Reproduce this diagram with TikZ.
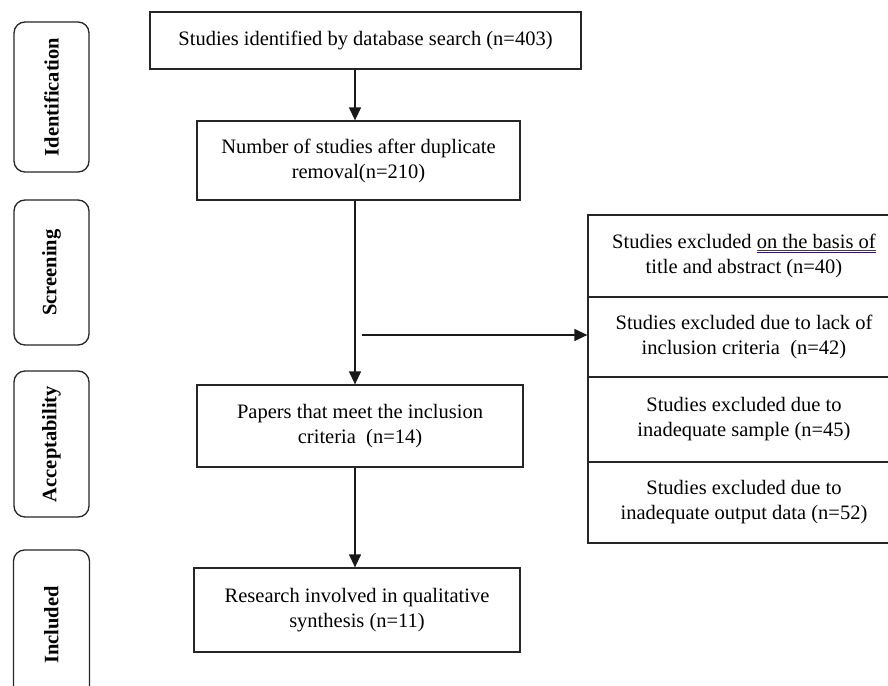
\documentclass[tikz,border=0pt]{standalone}
\usepackage{fontspec}
\setmainfont{Liberation Serif}
\usetikzlibrary{arrows.meta}
\newcommand\spellul[1]{\setbox0\hbox{#1}\rlap{\color{black!75}\rule[-2.4pt]{\wd0}{0.7pt}}\rlap{\color{blue!55!violet}\rule[-4.4pt]{\wd0}{1pt}}\box0}
\tikzset{
  mainbox/.style={draw=black!85, line width=1.3pt, align=center, inner sep=0pt,
    font=\fontsize{20.5}{25}\selectfont},
  phasebox/.style={draw=black!85, line width=1.3pt, rounded corners=11pt, rotate=90,
    inner sep=0pt, font=\fontsize{20.5}{24}\selectfont\bfseries},
  flow/.style={line width=1.3pt, black!90, -{Triangle[length=13pt,width=12pt]}},
}
\begin{document}
\begin{tikzpicture}[x=1pt,y=-1pt]
\clip (0,0) rectangle (888,685);
\fill[white] (0,0) rectangle (888,685);
% phase labels
\node[phasebox, minimum width=150pt, minimum height=75pt] (pid) at (51.5,97) {Identification};
\node[phasebox, minimum width=145pt, minimum height=75pt] (psc) at (51.5,272.5) {Screening};
\node[phasebox, minimum width=146pt, minimum height=75pt] (pac) at (51.5,444) {Acceptability};
\node[phasebox, minimum width=150pt, minimum height=76pt] (pin) at (51.5,625) {Included};
% main flow
\coordinate (ax) at (355,0);
\node[mainbox, minimum width=431pt, minimum height=57pt] (b1) at (365.5,40.5)
  {Studies identified by database search (n=403)};
\node[mainbox, minimum width=323pt, minimum height=79pt] (b2) at (358.5,160.5)
  {Number of studies after duplicate\\removal(n=210)};
\node[mainbox, minimum width=326pt, minimum height=82pt] (b3) at (360,426)
  {Papers that meet the inclusion\\criteria\ \ (n=14)};
\node[mainbox, minimum width=326pt, minimum height=84pt] (b4) at (357,610)
  {Research involved in qualitative\\synthesis (n=11)};
% exclusions
\node[mainbox, minimum width=312pt, minimum height=82pt] (e1) at (744,256)
  {Studies excluded \spellul{on the basis of}\\title and abstract (n=40)};
\node[mainbox, minimum width=312pt, minimum height=80pt] (e2) at (744,337)
  {Studies excluded due to lack of\\inclusion criteria\ \ (n=42)};
\node[mainbox, minimum width=312pt, minimum height=85pt] (e3) at (744,419.5)
  {Studies excluded due to\\inadequate sample (n=45)};
\node[mainbox, minimum width=312pt, minimum height=81pt] (e4) at (744,502.5)
  {Studies excluded due to\\inadequate output data (n=52)};
% connectors
\draw[flow] (b1.south -| ax) -- (b2.north -| ax);
\draw[flow] (b2.south -| ax) -- (b3.north -| ax);
\draw[flow] (b3.south -| ax) -- (b4.north -| ax);
\coordinate (hs) at (362,335);
\draw[flow] (hs) -- (hs -| e2.west);
\end{tikzpicture}
\end{document}
